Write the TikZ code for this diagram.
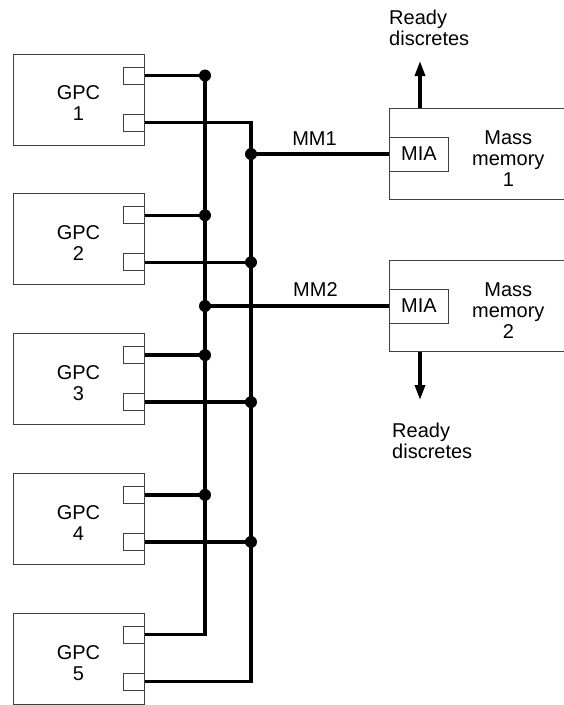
\documentclass[tikz,border=0pt]{standalone}
\usepackage{fontspec}
\setmainfont{Liberation Sans}
\usetikzlibrary{positioning, calc, arrows.meta}
\newcommand{\diagfont}{\fontsize{20}{21}\selectfont}
\tikzset{
    gpcbox/.style={rectangle, draw=black!75, line width=1pt, minimum width=131pt, minimum height=91pt, inner sep=0pt},
    port/.style={rectangle, draw=black!75, line width=1pt, minimum width=21pt, minimum height=17pt, inner sep=0pt},
    mmbox/.style={rectangle, draw=black!75, line width=1pt, minimum width=190pt, minimum height=91pt, inner sep=0pt},
    mia/.style={rectangle, draw=black!75, line width=1pt, minimum width=59pt, minimum height=34pt, inner sep=0pt, font=\diagfont},
    txt/.style={align=center, font=\diagfont, inner sep=0pt},
    leftxt/.style={align=left, font=\diagfont, inner sep=0pt},
    bus/.style={line width=3.3pt},
    dot/.style={circle, fill=black, minimum size=12pt, inner sep=0pt},
    arrow/.style={line width=3.3pt, -{Triangle[length=15pt, width=10pt]}}
}

\begin{document}
\begin{tikzpicture}[x=1pt, y=-1pt]
    \useasboundingbox (0,0) rectangle (564,705);
    \coordinate (busA) at (205,0);
    \coordinate (busB) at (251,0);

    % GPCs and their two ports
    \foreach \i in {1,...,5} {
        \node (gpc\i) [gpcbox] at (78.5, {99.5+139.8*(\i-1)}) {};
        \node (gpctext\i) [txt] at ($(gpc\i.center)+(0,4)$) {GPC\\\i};
        \node (pa\i) [port, anchor=east] at ($(gpc\i.north east)+(0,22)$) {};
        \node (pb\i) [port, anchor=east] at ($(gpc\i.north east)+(0,69)$) {};
    }

    % mass memories
    \node (mm1) [mmbox, anchor=north west] at (389,108) {};
    \node (mia1) [mia, anchor=west] at (mm1.west) {MIA};
    \node (mmtext1) [txt, right=23pt of mia1, yshift=-5pt] {Mass\\memory\\1};
    \node (mm2) [mmbox, anchor=north west] at (389,260) {};
    \node (mia2) [mia, anchor=west] at (mm2.west) {MIA};
    \node (mmtext2) [txt, right=23pt of mia2, yshift=-5pt] {Mass\\memory\\2};

    % buses
    \draw [bus] (pa1.east) -- (pa1.east -| busA) -- (pa5.east -| busA) -- (pa5.east);
    \draw [bus] (pb1.east) -- (pb1.east -| busB) -- (pb5.east -| busB) -- (pb5.east);
    \foreach \i in {2,3,4} {
        \draw [bus] (pa\i.east) -- (pa\i.east -| busA);
        \draw [bus] (pb\i.east) -- (pb\i.east -| busB);
        \node (dB\i) [dot] at (pb\i.east -| busB) {};
    }
    \foreach \i in {1,...,4}
        \node (dA\i) [dot] at (pa\i.east -| busA) {};

    \node (jmm1) [dot] at (mia1.west -| busB) {};
    \node (jmm2) [dot] at (mia2.west -| busA) {};
    \draw [bus] (jmm1.center) -- node [txt, above=7pt, pos=0.46] {MM1} (mia1.west);
    \draw [bus] (jmm2.center) -- node [txt, above=8pt, pos=0.6] {MM2} (mia2.west);

    % ready discretes
    \coordinate (tip1) at (420,61);
    \coordinate (tip2) at (420,400);
    \draw [arrow] (tip1 |- mm1.north) -- (tip1);
    \draw [arrow] (tip2 |- mm2.south) -- (tip2);
    \node (rd1) [leftxt, anchor=west] at (389,28) {Ready\\discretes};
    \node (rd2) [leftxt, anchor=west] at (392,441) {Ready\\discretes};
\end{tikzpicture}
\end{document}
